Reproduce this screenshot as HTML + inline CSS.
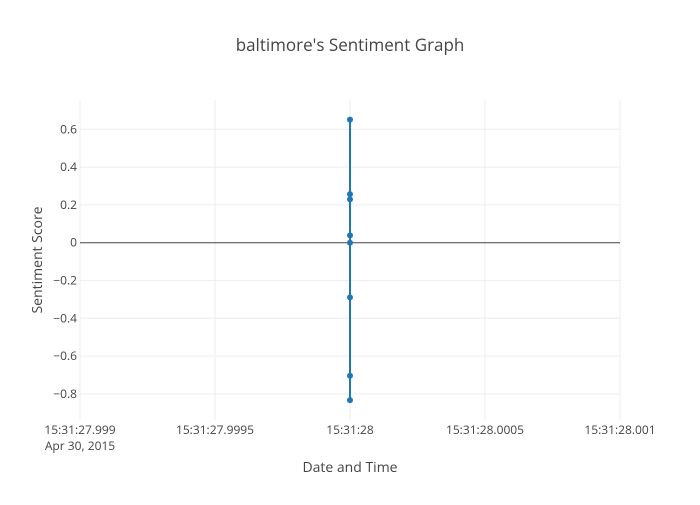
<!DOCTYPE html>
<html><head><meta charset="utf-8"><style>
body{margin:0;background:#fff;font-family:"Open Sans","Liberation Sans",sans-serif;}
text{font-family:"Open Sans","Liberation Sans",sans-serif;fill:#444;}
</style></head><body>
<svg id="chart" width="700" height="500">
<rect width="700" height="500" fill="#fff"/>
<text x="350" y="51" text-anchor="middle" font-size="17">baltimore's Sentiment Graph</text>
<g id="grid"></g><g id="axes"></g><g id="series"></g>
<text x="350" y="472" text-anchor="middle" font-size="14">Date and Time</text>
<text transform="translate(42,260) rotate(-90)" text-anchor="middle" font-size="14">Sentiment Score</text>
</svg>
<script>
const xTickLabels=["15:31:27.999","15:31:27.9995","15:31:28","15:31:28.0005","15:31:28.001"];
const xTickVals=[-1,-0.5,0,0.5,1];
const yTicks=[0.6,0.4,0.2,0,-0.2,-0.4,-0.6,-0.8];
const pointX=[0,0,0,0,0,0,0,0];
const sentiment=[0.651,0.257,0.229,0.039,0,-0.289,-0.704,-0.833];
const L=80,R=620,T=100,B=420,yMax=0.755,yMin=-0.938;
const xs=v=>L+(v+1)/2*(R-L);
const ys=v=>T+(yMax-v)/(yMax-yMin)*(B-T);
const NS="http://www.w3.org/2000/svg";
function mk(tag,attrs,parent,txt){const e=document.createElementNS(NS,tag);for(const k in attrs)e.setAttribute(k,attrs[k]);if(txt!==undefined)e.textContent=txt;document.getElementById(parent).appendChild(e);return e;}
xTickVals.forEach((v,i)=>{
  const g=mk('line',{x1:xs(v),x2:xs(v),y1:T,y2:B,stroke:'#eee','stroke-width':1},'grid');
  
  
  const t=mk('text',{x:xs(v),y:434,'text-anchor':'middle','font-size':12},'axes',xTickLabels[i]);
  
  
});
const d=mk('text',{x:xs(-1),y:450,'text-anchor':'middle','font-size':12},'axes','Apr 30, 2015');


yTicks.forEach(v=>{
  const z=v===0;
  const g=mk('line',{x1:L,x2:R,y1:ys(v),y2:ys(v),stroke:z?'#444':'#eee','stroke-width':z?1:1},'grid');
  
  
  const t=mk('text',{x:77,y:ys(v)+4,'text-anchor':'end','font-size':12},'axes',(v<0?'−':'')+Math.abs(v));
  
  
});
const pts=sentiment.map((v,i)=>xs(pointX[i])+','+ys(v)).join(' ');
const pl=mk('polyline',{points:pts,fill:'none',stroke:'#1f77b4','stroke-width':2},'series');


sentiment.forEach((v,i)=>{
  const c=mk('circle',{cx:xs(pointX[i]),cy:ys(v),r:3,fill:'#1f77b4'},'series');
  
  
});
</script>
</body></html>
